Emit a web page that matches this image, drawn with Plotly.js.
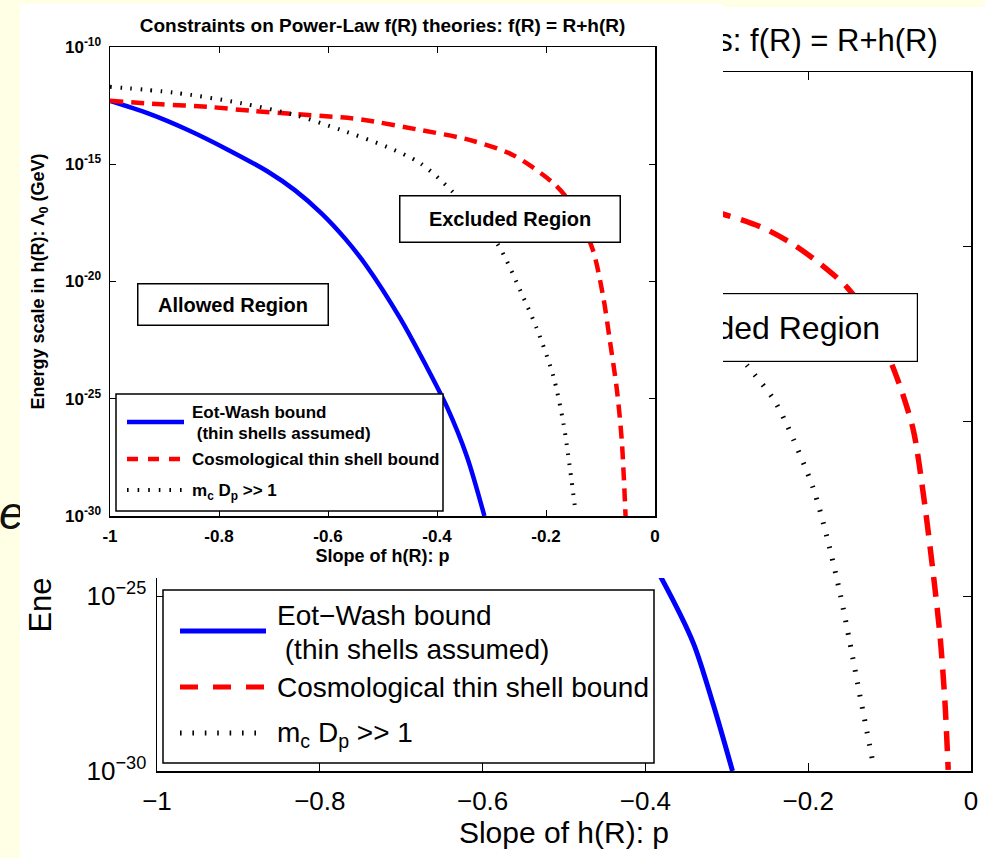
<!DOCTYPE html>
<html><head><meta charset="utf-8">
<script src="https://cdn.plot.ly/plotly-3.0.1.min.js"></script>
<style>
html,body{margin:0;padding:0;background:#FFFFE6;width:985px;height:858px;overflow:hidden;}
#frag{position:absolute;left:-1px;top:486px;font:italic 46px 'Liberation Sans',Arial,sans-serif;color:#111;}
#big{position:absolute;left:20px;top:7px;width:965px;height:851px;}
#inset{position:absolute;left:20px;top:4px;width:703px;height:574px;}
</style></head>
<body>
<div id="frag">e</div>
<div id="big"></div>
<div id="inset"></div>
<script>
// ---------------- DATA ----------------
// Background (large) chart: slope p and energy scale Lambda_0 (GeV)
const bigEotP   = [-1.00, -0.857, -0.710, -0.612, -0.529, -0.45, -0.379, -0.341, -0.317, -0.293];
const bigEotL   = [5.0e-13, 2.9e-14, 4.8e-16, 8.1e-18, 4.5e-20, 2.0e-22, 2.9e-25, 4.5e-27, 8.5e-29, 1.0e-30];
const bigCosP   = [-1.00, -0.82, -0.661, -0.536, -0.431, -0.35, -0.304, -0.256, -0.219, -0.185, -0.152, -0.12, -0.091, -0.071, -0.059, -0.047, -0.038, -0.032, -0.028];
const bigCosL   = [5.1e-13, 2.8e-13, 1.38e-13, 7.9e-14, 3.2e-14, 1.4e-14, 8.5e-15, 3.5e-15, 1.2e-15, 3.2e-16, 6.8e-17, 6.3e-18, 1.8e-19, 5.9e-21, 1.0e-22, 5.9e-25, 7.2e-27, 9.3e-29, 1.07e-30];
const bigMcP    = [-1.00, -0.759, -0.576, -0.431, -0.35, -0.30, -0.275, -0.243, -0.226, -0.194, -0.177, -0.161, -0.149, -0.136, -0.128, -0.121];
const bigMcL    = [2.0e-12, 4.0e-13, 2.9e-14, 1.12e-15, 3.2e-17, 2.0e-18, 4.0e-19, 4.5e-20, 7.9e-21, 1.26e-22, 5.0e-24, 1.26e-25, 5.0e-27, 1.26e-28, 1.41e-29, 2.0e-30];

// Inset chart
const insEotP   = [-1.00, -0.930, -0.857, -0.783, -0.710, -0.661, -0.612, -0.569, -0.529, -0.468, -0.419, -0.382, -0.345, -0.313];
const insEotL   = [5.0e-13, 1.48e-13, 2.9e-14, 4.1e-15, 4.8e-16, 7.9e-17, 8.1e-18, 6.9e-19, 4.5e-20, 2.8e-22, 2.3e-24, 4.6e-26, 3.4e-28, 1.0e-30];
const insCosP   = [-1.00, -0.906, -0.82, -0.741, -0.661, -0.576, -0.536, -0.431, -0.339, -0.261, -0.187, -0.150, -0.114, -0.095, -0.083, -0.070, -0.061, -0.054];
const insCosL   = [5.1e-13, 3.6e-13, 2.8e-13, 1.9e-13, 1.38e-13, 1.0e-13, 7.9e-14, 2.9e-14, 1.07e-14, 2.5e-15, 1.6e-16, 1.6e-17, 2.2e-19, 2.2e-21, 3.2e-23, 2.5e-25, 1.7e-27, 1.0e-30];
const insMcP    = [-1.00, -0.881, -0.759, -0.661, -0.576, -0.492, -0.431, -0.371, -0.290, -0.242, -0.217, -0.187, -0.168, -0.147];
const insMcL    = [2.0e-12, 1.12e-12, 4.0e-13, 1.26e-13, 2.9e-14, 5.5e-15, 1.12e-15, 6.6e-17, 4.4e-19, 2.2e-21, 1.0e-22, 1.0e-24, 8.9e-27, 2.5e-30];

// Tick labels
const xTickVals   = [-1, -0.8, -0.6, -0.4, -0.2, 0];
const xTickTxtBig = ['\u22121', '\u22120.8', '\u22120.6', '\u22120.4', '\u22120.2', '0'];
const xTickTxtIns = ['-1', '-0.8', '-0.6', '-0.4', '-0.2', '0'];
const yTickVals   = [1e-30, 1e-25, 1e-20, 1e-15, 1e-10];
const yTickTxtBig = ['10<sup>\u221230</sup>', '10<sup>\u221225</sup>', '10<sup>\u221220</sup>', '10<sup>\u221215</sup>', '10<sup>\u221210</sup>'];
const yTickTxtIns = ['10<sup>-30</sup>', '10<sup>-25</sup>', '10<sup>-20</sup>', '10<sup>-15</sup>', '10<sup>-10</sup>'];

const titleText = 'Constraints on Power-Law f(R) theories: f(R) = R+h(R)';
const xTitle = 'Slope of h(R): p';
const yTitle = 'Energy scale in h(R): \u039B<sub>0</sub> (GeV)';
const legBig = ['Eot\u2212Wash bound', ' (thin shells assumed)', 'Cosmological thin shell bound', 'm<sub>c</sub> D<sub>p</sub> &gt;&gt; 1'];
const legIns = ['Eot-Wash bound', ' (thin shells assumed)', 'Cosmological thin shell bound', 'm<sub>c</sub> D<sub>p</sub> &gt;&gt; 1'];

const BLUE = '#0000FF', RED = '#FF0000', BLACK = '#000000';
const FAM = 'Liberation Sans, Arial, Helvetica, sans-serif';
const SM = 0.8;

// ---------------- BIG CHART ----------------
(function(){
  const W = 965, H = 851, L = 137, R = 14, T = 65, B = 87;
  const pw = W - L - R, ph = H - T - B;
  const fx = px => (px - L) / pw;
  const fy = py => 1 - (py - T) / ph;
  const f = (s) => ({family: FAM, size: s, color: '#000'});

  const traces = [
    {x: bigEotP, y: bigEotL, mode: 'lines', line: {color: BLUE, width: 5, shape: 'spline', smoothing: SM}},
    {x: bigCosP, y: bigCosL, mode: 'lines', line: {color: RED, width: 5.5, dash: '20px,11px', shape: 'spline', smoothing: SM}},
    {x: bigMcP,  y: bigMcL,  mode: 'lines', line: {color: BLACK, width: 5, dash: '1.6px,11px', shape: 'spline', smoothing: SM}}
  ];
  const axBase = {showline: true, linecolor: '#000', linewidth: 1.5, mirror: 'ticks', ticks: 'inside',
    ticklen: 8, tickwidth: 1.2, tickcolor: '#000', showgrid: false, zeroline: false, automargin: false};
  const layout = {
    width: W, height: H, margin: {l: L, r: R, t: T, b: B},
    paper_bgcolor: '#ffffff', plot_bgcolor: '#ffffff', showlegend: false,
    title: {text: titleText, font: f(31), x: 0.5, xref: 'paper', xanchor: 'center', y: 1 - 33 / H, yref: 'container', yanchor: 'middle'},
    xaxis: Object.assign({}, axBase, {range: [-1, 0], tickmode: 'array', tickvals: xTickVals, ticktext: xTickTxtBig,
      tickfont: f(26), ticklabelstandoff: 6, title: {text: xTitle, font: f(30), standoff: 4}}),
    yaxis: Object.assign({}, axBase, {type: 'log', range: [-30, -10], tickmode: 'array', tickvals: yTickVals, ticktext: yTickTxtBig,
      tickfont: f(26), ticklabelstandoff: 4, title: {text: yTitle, font: f(31), standoff: 25}}),
    shapes: [
      {type: 'rect', xref: 'paper', yref: 'paper', x0: fx(143), x1: fx(634), y0: fy(756), y1: fy(583),
        fillcolor: '#fff', line: {color: '#000', width: 1.5}, layer: 'above'},
      {type: 'line', xref: 'paper', yref: 'paper', x0: fx(160), x1: fx(246), y0: fy(624), y1: fy(624), line: {color: BLUE, width: 5}, layer: 'above'},
      {type: 'line', xref: 'paper', yref: 'paper', x0: fx(160), x1: fx(246), y0: fy(680), y1: fy(680), line: {color: RED, width: 5, dash: '18px,15px'}, layer: 'above'},
      {type: 'line', xref: 'paper', yref: 'paper', x0: fx(160), x1: fx(246), y0: fy(726), y1: fy(726), line: {color: BLACK, width: 5, dash: '1.6px,10.8px'}, layer: 'above'}
    ],
    annotations: [
      {xref: 'paper', yref: 'paper', x: fx(739), y: fy(320.5), xanchor: 'center', yanchor: 'middle', text: 'Excluded Region',
        showarrow: false, font: f(32), bgcolor: '#fff', bordercolor: '#000', borderwidth: 1.2, borderpad: 0, width: 316, height: 67},
      {xref: 'paper', yref: 'paper', x: fx(255), y: fy(608), xanchor: 'left', yanchor: 'middle', text: legBig[0], showarrow: false, font: f(28)},
      {xref: 'paper', yref: 'paper', x: fx(255), y: fy(642), xanchor: 'left', yanchor: 'middle', text: legBig[1], showarrow: false, font: f(28)},
      {xref: 'paper', yref: 'paper', x: fx(255), y: fy(680), xanchor: 'left', yanchor: 'middle', text: legBig[2], showarrow: false, font: f(28)},
      {xref: 'paper', yref: 'paper', x: fx(255), y: fy(727), xanchor: 'left', yanchor: 'middle', text: legBig[3], showarrow: false, font: f(28)}
    ]
  };
  Plotly.newPlot('big', traces, layout, {displayModeBar: false, staticPlot: true});
})();

// ---------------- INSET CHART ----------------
(function(){
  const W = 703, H = 574, L = 90, R = 68, T = 43, B = 62;
  const pw = W - L - R, ph = H - T - B;
  const fx = px => (px - L) / pw;
  const fy = py => 1 - (py - T) / ph;
  const f = (s) => ({family: FAM, size: s, color: '#000', weight: 700});

  const traces = [
    {x: insEotP, y: insEotL, mode: 'lines', line: {color: BLUE, width: 4.5, shape: 'spline', smoothing: SM}},
    {x: insCosP, y: insCosL, mode: 'lines', line: {color: RED, width: 4.5, dash: '13px,8px', shape: 'spline', smoothing: SM}},
    {x: insMcP,  y: insMcL,  mode: 'lines', line: {color: BLACK, width: 4, dash: '1.6px,8.5px', shape: 'spline', smoothing: SM}}
  ];
  const axBase = {showline: true, linecolor: '#000', linewidth: 1.5, mirror: 'ticks', ticks: 'inside',
    ticklen: 6, tickwidth: 1, tickcolor: '#000', showgrid: false, zeroline: false, automargin: false};
  const layout = {
    width: W, height: H, margin: {l: L, r: R, t: T, b: B},
    paper_bgcolor: '#ffffff', plot_bgcolor: '#ffffff', showlegend: false,
    title: {text: titleText, font: f(19), x: 0.5, xref: 'paper', xanchor: 'center', y: 1 - 21 / H, yref: 'container', yanchor: 'middle'},
    xaxis: Object.assign({}, axBase, {range: [-1, 0], tickmode: 'array', tickvals: xTickVals, ticktext: xTickTxtIns,
      tickfont: f(17), ticklabelstandoff: 4, title: {text: xTitle, font: f(18), standoff: 4}}),
    yaxis: Object.assign({}, axBase, {type: 'log', range: [-30, -10], tickmode: 'array', tickvals: yTickVals, ticktext: yTickTxtIns,
      tickfont: f(17), ticklabelstandoff: 4, title: {text: yTitle, font: f(18), standoff: 15}}),
    shapes: [
      {type: 'rect', xref: 'paper', yref: 'paper', x0: fx(96), x1: fx(423), y0: fy(507), y1: fy(390),
        fillcolor: '#fff', line: {color: '#000', width: 1.5}, layer: 'above'},
      {type: 'line', xref: 'paper', yref: 'paper', x0: fx(107), x1: fx(164), y0: fy(418), y1: fy(418), line: {color: BLUE, width: 4.5}, layer: 'above'},
      {type: 'line', xref: 'paper', yref: 'paper', x0: fx(107), x1: fx(164), y0: fy(455), y1: fy(455), line: {color: RED, width: 4.5, dash: '11px,10px'}, layer: 'above'},
      {type: 'line', xref: 'paper', yref: 'paper', x0: fx(107), x1: fx(164), y0: fy(486), y1: fy(486), line: {color: BLACK, width: 4, dash: '1.6px,9px'}, layer: 'above'}
    ],
    annotations: [
      {xref: 'paper', yref: 'paper', x: fx(212.5), y: fy(300), xanchor: 'center', yanchor: 'middle', text: 'Allowed Region',
        showarrow: false, font: f(20), bgcolor: '#fff', bordercolor: '#000', borderwidth: 1.5, borderpad: 0, width: 189, height: 40},
      {xref: 'paper', yref: 'paper', x: fx(489.5), y: fy(214.5), xanchor: 'center', yanchor: 'middle', text: 'Excluded Region',
        showarrow: false, font: f(20), bgcolor: '#fff', bordercolor: '#000', borderwidth: 1.5, borderpad: 0, width: 219, height: 45},
      {xref: 'paper', yref: 'paper', x: fx(170), y: fy(408), xanchor: 'left', yanchor: 'middle', text: legIns[0], showarrow: false, font: f(17)},
      {xref: 'paper', yref: 'paper', x: fx(170), y: fy(429), xanchor: 'left', yanchor: 'middle', text: legIns[1], showarrow: false, font: f(17)},
      {xref: 'paper', yref: 'paper', x: fx(170), y: fy(455), xanchor: 'left', yanchor: 'middle', text: legIns[2], showarrow: false, font: f(17)},
      {xref: 'paper', yref: 'paper', x: fx(170), y: fy(488), xanchor: 'left', yanchor: 'middle', text: legIns[3], showarrow: false, font: f(17)}
    ]
  };
  Plotly.newPlot('inset', traces, layout, {displayModeBar: false, staticPlot: true});
})();
</script>
</body></html>
